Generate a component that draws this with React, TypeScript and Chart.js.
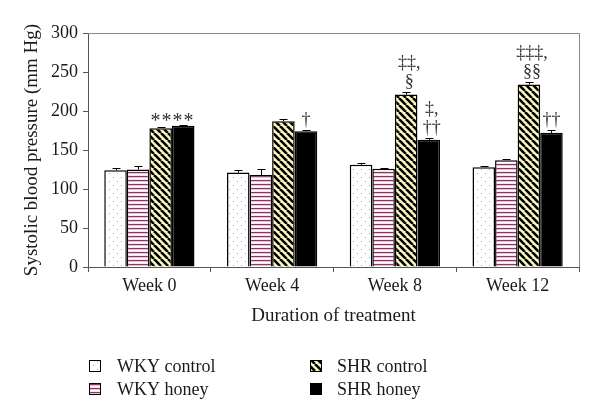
import React, { useEffect, useRef } from "react";
import { Chart, registerables } from "chart.js";

Chart.register(...registerables);

const categories = ["Week 0", "Week 4", "Week 8", "Week 12"];
const seriesNames = ["WKY control", "WKY honey", "SHR control", "SHR honey"];
const wkyControl = [124, 121, 131, 128];
const wkyHoney = [125, 118, 126, 137];
const shrControl = [178, 187, 221, 234];
const shrHoney = [181, 174, 163, 172];
const wkyControlErr = [3, 3, 2, 1];
const wkyHoneyErr = [5, 7, 1, 1];
const shrControlErr = [1, 3, 4, 3];
const shrHoneyErr = [1, 2, 2, 4];
const yTicks = [0, 50, 100, 150, 200, 250, 300];
// annotations: category index, dataset indices it sits over, text lines
const annotCats = [0, 1, 2, 2, 3, 3];
const annotSets = [[2, 3], [3], [2], [3], [2], [3]];
const annotLines = [["****"], ["\u2020"], ["\u2021\u2021,", "\u00a7"], ["\u2021,", "\u2020\u2020"], ["\u2021\u2021\u2021,", "\u00a7\u00a7"], ["\u2020\u2020"]];

const FONT = "'Liberation Serif', 'DejaVu Serif', serif";
const TEXT = "#1a1a1a";
const AXIS = "#555555";

function makePattern(kind: string): CanvasPattern | string {
  const c = document.createElement("canvas");
  const g = c.getContext("2d")!;
  if (kind === "dots") {
    c.width = 8; c.height = 8;
    g.fillStyle = "#ffffff"; g.fillRect(0, 0, 8, 8);
    g.fillStyle = "#a9a4d8";
    g.fillRect(1, 1, 1, 1);
    g.fillRect(5, 5, 1, 1);
  } else if (kind === "hstripe") {
    c.width = 4; c.height = 4;
    g.fillStyle = "#ffffff"; g.fillRect(0, 0, 4, 4);
    g.fillStyle = "#8e3565"; g.fillRect(0, 0, 4, 1);
    g.fillStyle = "#e7bfd2"; g.fillRect(0, 1, 4, 1);
    g.fillStyle = "#f7e6ee"; g.fillRect(0, 3, 4, 1);
  } else if (kind === "diag") {
    const s = 7;
    c.width = s; c.height = s;
    g.fillStyle = "#fcf8c2"; g.fillRect(0, 0, s, s);
    g.strokeStyle = "#000000"; g.lineWidth = 2.6;
    for (let k = -1; k <= 1; k++) {
      g.beginPath();
      g.moveTo(k * s, 0);
      g.lineTo(k * s + s, s);
      g.stroke();
    }
  } else {
    return "#000000";
  }
  return g.createPattern(c, "repeat")!;
}

export default function App() {
  const ref = useRef<HTMLCanvasElement | null>(null);

  useEffect(() => {
    document.body.style.margin = "0";
    const canvas = ref.current!;
    const fills = [makePattern("dots"), makePattern("hstripe"), makePattern("diag"), makePattern("solid")];
    const values = [wkyControl, wkyHoney, shrControl, shrHoney];
    const errs = [wkyControlErr, wkyHoneyErr, shrControlErr, shrHoneyErr];

    const extras = {
      id: "extras",
      afterDatasetsDraw(chart: any) {
        const ctx = chart.ctx;
        const y = chart.scales.y;
        const area = chart.chartArea;
        ctx.save();
        // frame top/right
        ctx.strokeStyle = "#8a8a8a";
        ctx.lineWidth = 1;
        ctx.beginPath();
        ctx.moveTo(area.left, Math.round(area.top) + 0.5);
        ctx.lineTo(Math.round(area.right) + 0.5, Math.round(area.top) + 0.5);
        ctx.lineTo(Math.round(area.right) + 0.5, area.bottom);
        ctx.stroke();
        // error bars
        ctx.strokeStyle = "#000000";
        ctx.lineWidth = 1;
        for (let d = 0; d < 4; d++) {
          const meta = chart.getDatasetMeta(d);
          meta.data.forEach((bar: any, i: number) => {
            const top = y.getPixelForValue(values[d][i]);
            const et = Math.round(y.getPixelForValue(values[d][i] + errs[d][i])) + 0.5;
            const x = Math.round(bar.x) + 0.5;
            ctx.beginPath();
            ctx.moveTo(x, top);
            ctx.lineTo(x, et);
            ctx.moveTo(x - 4, et);
            ctx.lineTo(x + 4, et);
            ctx.stroke();
          });
        }
        // annotations
        ctx.fillStyle = "#333333";
        ctx.textAlign = "center";
        ctx.textBaseline = "alphabetic";
        for (let a = 0; a < annotCats.length; a++) {
          const cat = annotCats[a];
          const sets = annotSets[a];
          let xs = 0;
          let topVal = 0;
          sets.forEach((d) => {
            xs += chart.getDatasetMeta(d).data[cat].x;
            topVal = Math.max(topVal, values[d][cat] + errs[d][cat]);
          });
          const cx = xs / sets.length + (sets.length === 1 && annotLines[a][0].includes(",") ? 3 : 0);
          const base = y.getPixelForValue(topVal) - 5;
          const lines = annotLines[a];
          const lh = 19;
          lines.forEach((t, k) => {
            const isStar = t === "****";
            ctx.font = (isStar ? "20px " : "18px ") + FONT;
            const ly = base - (lines.length - 1 - k) * lh + (isStar ? 7 : 0);
            if (isStar) {
              // spaced asterisks
              const step = 11;
              for (let s = 0; s < 4; s++) ctx.fillText("*", cx + (s - 1.5) * step, ly);
            } else {
              ctx.fillText(t, cx, ly);
            }
          });
        }
        ctx.restore();
      },
      afterDraw(chart: any) {
        const ctx = chart.ctx;
        ctx.save();
        const colX = [89, 310];
        const textX = [117, 337];
        const rowY = [366, 389];
        ctx.font = "18px " + FONT;
        ctx.textBaseline = "middle";
        ctx.textAlign = "left";
        for (let d = 0; d < 4; d++) {
          const col = d < 2 ? 0 : 1;
          const row = d % 2;
          const bx = colX[col];
          const by = rowY[row] - 6;
          ctx.fillStyle = fills[d] as any;
          ctx.fillRect(bx, by, 12, 12);
          ctx.strokeStyle = "#000000";
          ctx.lineWidth = 1;
          ctx.strokeRect(bx + 0.5, by + 0.5, 11, 11);
          ctx.fillStyle = TEXT;
          ctx.fillText(seriesNames[d], textX[col], rowY[row] + 1);
        }
        ctx.restore();
      },
    };

    const chart = new Chart(canvas, {
      type: "bar",
      data: {
        labels: categories,
        datasets: values.map((v, d) => ({
          label: seriesNames[d],
          data: v,
          backgroundColor: fills[d] as any,
          borderColor: "#000000",
          borderWidth: 1.5,
          categoryPercentage: 0.735,
          barPercentage: 1,
        })),
      },
      options: {
        animation: false,
        responsive: false,
        devicePixelRatio: 1,
        layout: { padding: { left: 0, top: 33, right: 21, bottom: 92 } },
        plugins: { legend: { display: false }, tooltip: { enabled: false } },
        scales: {
          x: {
            afterFit(scale: any) { scale.height = 60; },
            grid: { display: true, drawOnChartArea: false, tickLength: 5, color: AXIS, offset: true },
            border: { display: true, color: AXIS, width: 1 },
            ticks: { color: TEXT, font: { family: FONT, size: 18 }, padding: 3 },
            title: { display: true, text: "Duration of treatment", color: TEXT, font: { family: FONT, size: 19 }, padding: { top: 0, bottom: 0 } },
          },
          y: {
            min: 0,
            max: 300,
            afterFit(scale: any) { scale.width = 88; },
            afterBuildTicks(scale: any) { scale.ticks = yTicks.map((v) => ({ value: v })); },
            grid: { display: true, drawOnChartArea: false, tickLength: 5, color: AXIS },
            border: { display: true, color: AXIS, width: 1 },
            ticks: { color: TEXT, font: { family: FONT, size: 18 }, padding: 5 },
            title: { display: true, text: "Systolic blood pressure (mm Hg)", color: TEXT, font: { family: FONT, size: 19 }, padding: { top: 21, bottom: 0 } },
          },
        },
      },
      plugins: [extras],
    });
    return () => chart.destroy();
  }, []);

  return (
    <div style={{ position: "absolute", left: 0, top: 0, width: 600, height: 419, background: "#ffffff" }}>
      <canvas ref={ref} width={600} height={419} style={{ display: "block" }} />
    </div>
  );
}
